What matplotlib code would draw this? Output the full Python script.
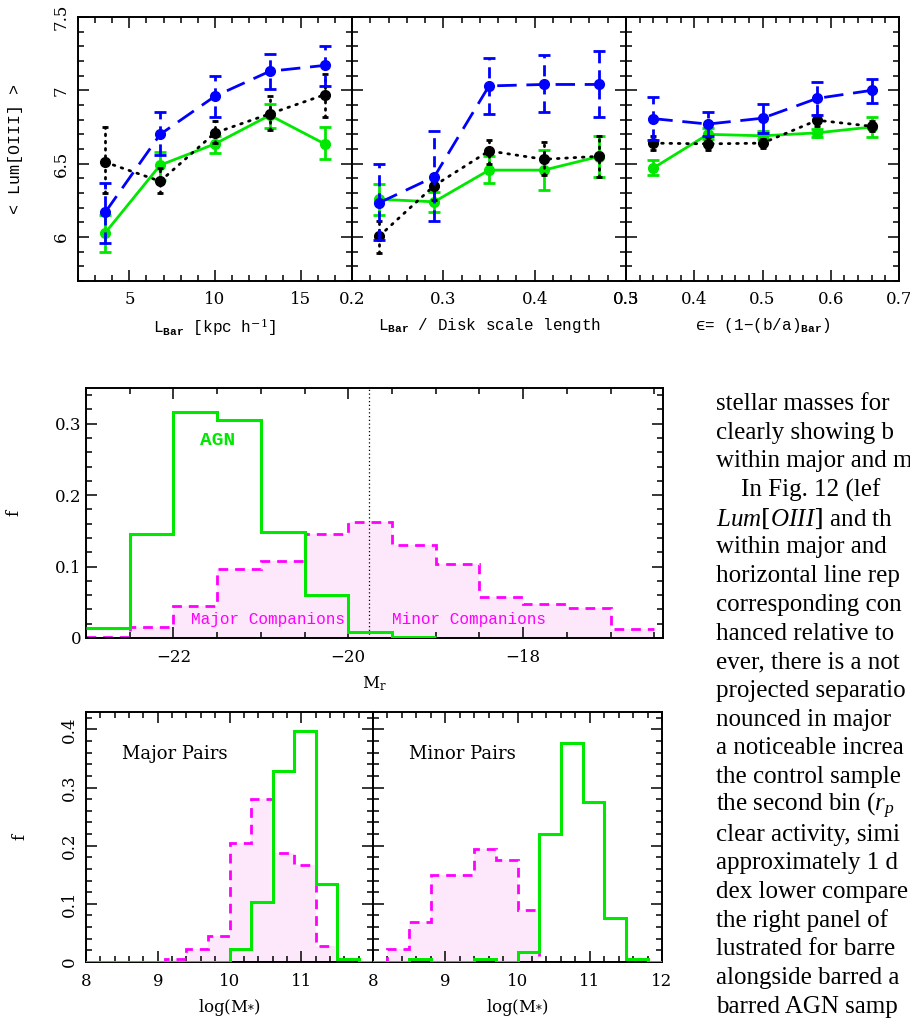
import matplotlib
matplotlib.use('Agg')
import matplotlib.pyplot as plt
from matplotlib.ticker import MultipleLocator, FixedLocator, FormatStrFormatter, FuncFormatter

plt.rcParams['font.family'] = ['DejaVu Serif']
plt.rcParams['mathtext.fontset'] = 'custom'
plt.rcParams['mathtext.rm'] = 'DejaVu Serif'
plt.rcParams['mathtext.it'] = 'Liberation Serif:italic'
plt.rcParams['mathtext.bf'] = 'Liberation Mono:bold'
plt.rcParams['mathtext.tt'] = 'Liberation Mono'

MONO = ['Liberation Mono', 'DejaVu Sans Mono']
BLUE = '#0000ff'
GREEN = '#00e800'
MAGENTA = '#ff00ff'
PINK = '#fde8fb'

# ---- top row: <Lum[OIII]> vs bar properties ----
lbar_x = [3.6, 6.8, 10.0, 13.2, 16.4]
lbar_blue = [6.17, 6.70, 6.96, 7.13, 7.17]
lbar_blue_hi = [6.37, 6.85, 7.10, 7.25, 7.30]
lbar_blue_lo = [5.96, 6.56, 6.82, 7.01, 7.03]
lbar_black = [6.51, 6.38, 6.71, 6.84, 6.97]
lbar_black_hi = [6.75, 6.47, 6.79, 6.96, 7.11]
lbar_black_lo = [6.30, 6.30, 6.64, 6.73, 6.82]
lbar_green = [6.03, 6.49, 6.635, 6.83, 6.635]
lbar_green_hi = [6.15, 6.58, 6.69, 6.91, 6.75]
lbar_green_lo = [5.90, 6.39, 6.57, 6.74, 6.53]

ratio_x = [0.23, 0.29, 0.35, 0.41, 0.47]
ratio_blue = [6.234, 6.41, 7.03, 7.04, 7.04]
ratio_blue_hi = [6.50, 6.72, 7.22, 7.24, 7.27]
ratio_blue_lo = [5.98, 6.11, 6.84, 6.85, 6.82]
ratio_black = [6.007, 6.35, 6.587, 6.53, 6.55]
ratio_black_hi = [6.11, 6.43, 6.66, 6.65, 6.69]
ratio_black_lo = [5.89, 6.25, 6.50, 6.42, 6.41]
ratio_green = [6.257, 6.24, 6.456, 6.456, 6.548]
ratio_green_hi = [6.36, 6.31, 6.55, 6.59, 6.69]
ratio_green_lo = [6.15, 6.17, 6.37, 6.32, 6.41]

ell_x = [0.34, 0.42, 0.50, 0.58, 0.66]
ell_blue = [6.807, 6.77, 6.81, 6.945, 7.00]
ell_blue_hi = [6.956, 6.85, 6.91, 7.06, 7.08]
ell_blue_lo = [6.66, 6.69, 6.71, 6.83, 6.915]
ell_black = [6.64, 6.635, 6.64, 6.796, 6.755]
ell_black_hi = [6.69, 6.68, 6.67, 6.835, 6.79]
ell_black_lo = [6.59, 6.59, 6.605, 6.755, 6.72]
ell_green = [6.47, 6.70, 6.69, 6.71, 6.75]
ell_green_hi = [6.525, 6.74, 6.72, 6.735, 6.82]
ell_green_lo = [6.42, 6.67, 6.67, 6.68, 6.68]

# ---- middle: M_r distributions ----
mr_edges = [-23.0, -22.5, -22.0, -21.5, -21.0, -20.5, -20.0, -19.5, -19.0,
            -18.5, -18.0, -17.5, -17.0, -16.5]
agn_mr = [0.014, 0.145, 0.316, 0.305, 0.148, 0.060, 0.009, 0.002]
comp_mr = [0.002, 0.016, 0.045, 0.097, 0.108, 0.146, 0.162, 0.130, 0.104,
           0.058, 0.047, 0.042, 0.012]
mr_split = -19.76

# ---- bottom: stellar mass distributions ----
mass_edges = [7.9, 8.2, 8.5, 8.8, 9.1, 9.4, 9.7, 10.0, 10.3, 10.6, 10.9,
              11.2, 11.5, 11.8, 12.1]
major_agn = [0, 0, 0, 0, 0, 0, 0, 0.022, 0.103, 0.329, 0.397, 0.134, 0.005, 0]
major_comp = [0, 0, 0, 0, 0.005, 0.023, 0.044, 0.205, 0.281, 0.187, 0.166, 0.027, 0, 0]
minor_agn = [0, 0, 0.005, 0, 0, 0.005, 0, 0.018, 0.220, 0.377, 0.275, 0.076, 0.005, 0]
minor_comp = [0, 0.023, 0.068, 0.149, 0.149, 0.194, 0.175, 0.089, 0, 0, 0, 0, 0, 0]

body_lines = [
    "stellar masses for", "clearly showing b", "within major and m",
    "    In Fig. 12 (lef", "$Lum[OIII]$ and th", "within major and",
    "horizontal line rep", "corresponding con", "hanced relative to",
    "ever, there is a not", "projected separatio", "nounced in major",
    "a noticeable increa", "the control sample", "the second bin ($r_p$",
    "clear activity, simi", "approximately 1 d", "dex lower compare",
    "the right panel of", "lustrated for barre", "alongside barred a",
    "barred AGN samp",
]

W, H = 910, 1019
fig = plt.figure(figsize=(W / 100, H / 100), dpi=100)


def rect(x0, y0, x1, y1):
    return [x0 / W, 1 - y1 / H, (x1 - x0) / W, (y1 - y0) / H]


def style_axes(ax):
    for s in ax.spines.values():
        s.set_linewidth(1.4)
    ax.tick_params(which='both', direction='in', top=True, right=True,
                   labelsize=12, width=1.1)
    ax.tick_params(which='major', length=8)
    ax.tick_params(which='minor', length=4)


def errseries(ax, x, y, lo, hi, color, ls, z):
    yerr = [[a - b for a, b in zip(y, lo)], [b - a for a, b in zip(y, hi)]]
    line, caps, bars = ax.errorbar(x, y, yerr=yerr, color=color, marker='o',
                                   ms=7, lw=2.0, capsize=4, capthick=2.0,
                                   elinewidth=2.0, zorder=z)
    if ls == 'dash':
        line.set_dashes([7, 3.5])
        bars[0].set_linestyle((0, (4, 2.5)))
    elif ls == 'dot':
        line.set_dashes([0.6, 2.4])
        line.set_dash_capstyle('round')
        bars[0].set_linestyle((0, (0.6, 2.0)))
        bars[0].set_capstyle('round')
        for c in caps:
            c.set_markersize(5)


minus_fmt = FuncFormatter(lambda v, p: ('%g' % v).replace('-', '\u2212'))

top_panels = [
    (rect(78, 17, 352, 281), lbar_x,
     (lbar_blue, lbar_blue_lo, lbar_blue_hi),
     (lbar_black, lbar_black_lo, lbar_black_hi),
     (lbar_green, lbar_green_lo, lbar_green_hi),
     (2, 18), [5, 10, 15], 1, r'L$_{\bf Bar}$ [kpc h$^{-1}$]'),
    (rect(352, 17, 626, 281), ratio_x,
     (ratio_blue, ratio_blue_lo, ratio_blue_hi),
     (ratio_black, ratio_black_lo, ratio_black_hi),
     (ratio_green, ratio_green_lo, ratio_green_hi),
     (0.2, 0.5), [0.2, 0.3, 0.4, 0.5], 0.02, r'L$_{\bf Bar}$ / Disk scale length'),
    (rect(626, 17, 899, 281), ell_x,
     (ell_blue, ell_blue_lo, ell_blue_hi),
     (ell_black, ell_black_lo, ell_black_hi),
     (ell_green, ell_green_lo, ell_green_hi),
     (0.3, 0.7), [0.3, 0.4, 0.5, 0.6, 0.7], 0.02, '\u03f5= (1\u2212(b/a)$_{\\bf Bar}$)'),
]

for i, (r, xs, blue, black, green, xlim, xt, xminor, xlab) in enumerate(top_panels):
    ax = fig.add_axes(r)
    errseries(ax, xs, green[0], green[1], green[2], GREEN, 'solid', 3)
    errseries(ax, xs, black[0], black[1], black[2], 'black', 'dot', 4)
    errseries(ax, xs, blue[0], blue[1], blue[2], BLUE, 'dash', 5)
    ax.set_xlim(*xlim)
    ax.set_ylim(5.7, 7.5)
    ax.xaxis.set_major_locator(FixedLocator(xt))
    ax.xaxis.set_minor_locator(MultipleLocator(xminor))
    ax.yaxis.set_major_locator(FixedLocator([6, 6.5, 7, 7.5]))
    ax.yaxis.set_minor_locator(MultipleLocator(0.1))
    ax.xaxis.set_major_formatter(FormatStrFormatter('%g'))
    ax.yaxis.set_major_formatter(FormatStrFormatter('%g'))
    style_axes(ax)
    ax.tick_params(axis='x', pad=7)
    ax.set_xlabel(xlab, family=MONO, fontsize=11.5, labelpad=6)
    if i == 0:
        ax.tick_params(axis='y', labelrotation=90, pad=6)
        for t in ax.get_yticklabels():
            t.set_va('center')
        ax.set_ylabel('< Lum[OIII] >', family=MONO, fontsize=12)
        ax.yaxis.set_label_coords(-0.2, 0.5)
    else:
        ax.tick_params(axis='y', labelleft=False)

# middle histogram
ax = fig.add_axes(rect(86, 388, 663, 638))
ax.stairs(comp_mr, mr_edges, fill=True, color=PINK, lw=0, zorder=1)
ax.stairs(comp_mr, mr_edges, baseline=None, color=MAGENTA, lw=2,
          linestyle=(0, (3.5, 2.5)), zorder=2)
ax.stairs(agn_mr, mr_edges[:len(agn_mr) + 1], baseline=None, color=GREEN,
          lw=2.2, zorder=3)
ax.axvline(mr_split, color='black', lw=0.9, linestyle=(0, (1, 2)), zorder=2)
ax.set_xlim(-23, -16.4)
ax.set_ylim(0, 0.35)
ax.xaxis.set_major_locator(FixedLocator([-22, -20, -18]))
ax.xaxis.set_minor_locator(MultipleLocator(0.5))
ax.yaxis.set_major_locator(FixedLocator([0, 0.1, 0.2, 0.3]))
ax.yaxis.set_minor_locator(MultipleLocator(0.02))
ax.xaxis.set_major_formatter(minus_fmt)
ax.yaxis.set_major_formatter(FormatStrFormatter('%g'))
style_axes(ax)
ax.tick_params(axis='x', pad=8)
ax.text(-21.5, 0.277, 'AGN', color=GREEN, family=MONO, fontsize=14,
        fontweight='bold', ha='center', va='center')
ax.text(-20.92, 0.026, 'Major Companions', color=MAGENTA, family=MONO,
        fontsize=11.5, ha='center', va='center')
ax.text(-18.62, 0.026, 'Minor Companions', color=MAGENTA, family=MONO,
        fontsize=11.5, ha='center', va='center')
ax.set_xlabel(r'M$_{\mathrm{r}}$', fontsize=12, labelpad=6)
ax.set_ylabel('f', fontsize=12)
ax.yaxis.set_label_coords(-0.11, 0.5)

# bottom histograms
bottom = [
    (rect(86, 712, 373, 962), major_agn, major_comp, 'Major Pairs', [8, 9, 10, 11]),
    (rect(373, 712, 662, 962), minor_agn, minor_comp, 'Minor Pairs', [8, 9, 10, 11, 12]),
]
for i, (r, agn, comp, name, xt) in enumerate(bottom):
    ax = fig.add_axes(r)
    ax.stairs(comp, mass_edges, fill=True, color=PINK, lw=0, zorder=1)
    ax.stairs(comp, mass_edges, baseline=None, color=MAGENTA, lw=2,
              linestyle=(0, (3.5, 2.5)), zorder=2)
    ax.stairs(agn, mass_edges, baseline=None, color=GREEN, lw=2.2, zorder=3)
    ax.set_xlim(8, 12)
    ax.set_ylim(0, 0.43)
    ax.xaxis.set_major_locator(FixedLocator(xt))
    ax.xaxis.set_minor_locator(MultipleLocator(0.2))
    ax.yaxis.set_major_locator(FixedLocator([0, 0.1, 0.2, 0.3, 0.4]))
    ax.yaxis.set_minor_locator(MultipleLocator(0.02))
    ax.xaxis.set_major_formatter(FormatStrFormatter('%g'))
    ax.yaxis.set_major_formatter(FormatStrFormatter('%g'))
    style_axes(ax)
    ax.tick_params(axis='x', pad=8)
    ax.text(8.5, 0.357, name, fontsize=13, ha='left', va='center')
    ax.set_xlabel(r'log(M$_{*}$)', fontsize=12, labelpad=5)
    if i == 0:
        ax.tick_params(axis='y', labelrotation=90, pad=6)
        for t in ax.get_yticklabels():
            t.set_va('center')
        ax.set_ylabel('f', fontsize=12)
        ax.yaxis.set_label_coords(-0.2, 0.5)
    else:
        ax.tick_params(axis='y', labelleft=False)

# running text column on the right
for k, line in enumerate(body_lines):
    fig.text(716 / W, 1 - (404 + 28.7 * k) / H, line, fontsize=18,
             family=['Liberation Serif'], ha='left', va='center')

fig.savefig('out.png', dpi=100)
